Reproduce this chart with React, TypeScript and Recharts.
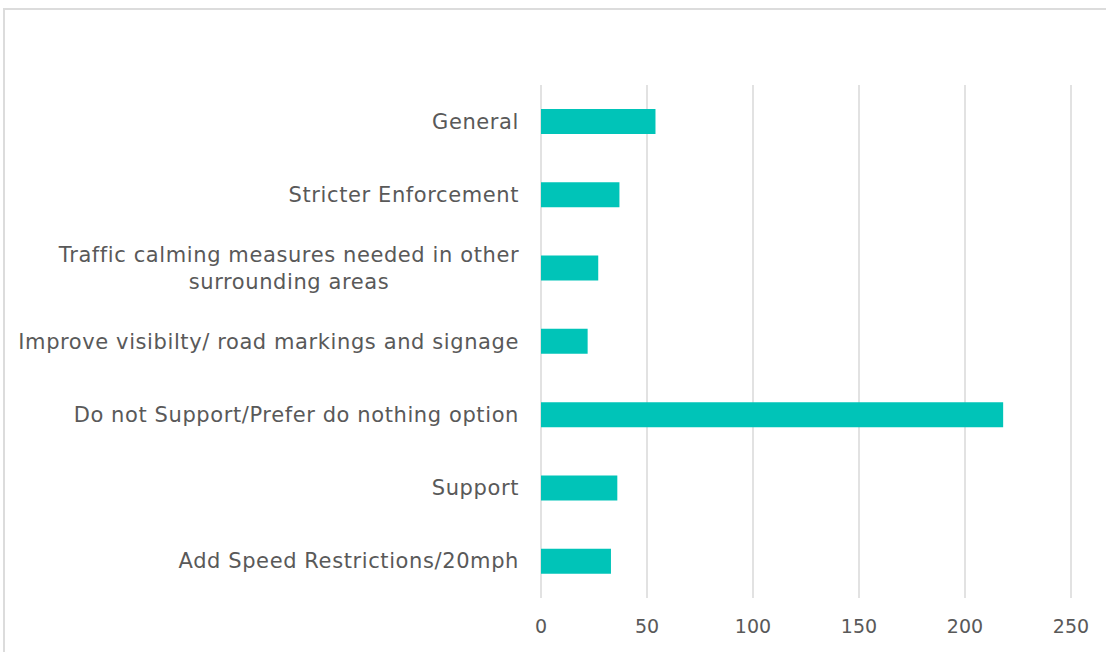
import React from "react";
import { BarChart, Bar, XAxis, YAxis, CartesianGrid } from "recharts";

const categories = [
  "General",
  "Stricter Enforcement",
  "Traffic calming measures needed in other surrounding areas",
  "Improve visibilty/ road markings and signage",
  "Do not Support/Prefer do nothing option",
  "Support",
  "Add Speed Restrictions/20mph",
];
const counts = [54, 37, 27, 22, 218, 36, 33];
const xTicks = [0, 50, 100, 150, 200, 250];
const wrapped: Record<string, string[]> = {
  "Traffic calming measures needed in other surrounding areas": [
    "Traffic calming measures needed in other",
    "surrounding areas",
  ],
};

const data = categories.map((c, i) => ({ name: c, value: counts[i] }));

const FONT = "'DejaVu Sans', sans-serif";
const FONT_SIZE = 21;
const LS = 0.6;
const TEXT = "#595959";

let ctx: CanvasRenderingContext2D | null = null;
const measure = (s: string) => {
  let w = s.length * 11;
  if (typeof document !== "undefined") {
    if (!ctx) ctx = document.createElement("canvas").getContext("2d");
    if (ctx) {
      ctx.font = `${FONT_SIZE}px ${FONT}`;
      w = ctx.measureText(s).width;
    }
  }
  return w + s.length * LS;
};

const YTick = (props: any) => {
  const { x, y, payload } = props;
  const lines = wrapped[payload.value] || [payload.value];
  const lh = 27;
  const start = y - ((lines.length - 1) * lh) / 2;
  if (lines.length === 1) {
    return (
      <text x={x} y={y} textAnchor="end" fill={TEXT} fontFamily={FONT} fontSize={FONT_SIZE} letterSpacing={LS} dominantBaseline="central">
        {lines[0]}
      </text>
    );
  }
  const maxW = Math.max(...lines.map(measure));
  const cx = x - maxW / 2;
  return (
    <text x={cx} y={start} textAnchor="middle" fill={TEXT} fontFamily={FONT} fontSize={FONT_SIZE} letterSpacing={LS}>
      {lines.map((l, i) => (
        <tspan key={i} x={cx} y={start + i * lh} dominantBaseline="central">
          {l}
        </tspan>
      ))}
    </text>
  );
};

export default function App() {
  return (
    <div style={{ position: "absolute", left: 0, top: 0, width: 1106, height: 652, background: "#fff", overflow: "hidden" }}>
      <div
        style={{
          position: "absolute",
          left: 3,
          top: 8,
          width: 1120,
          height: 700,
          borderTop: "2px solid #dcdcdc",
          borderLeft: "2px solid #dcdcdc",
        }}
      />
      <div style={{ position: "absolute", left: 0, top: 0 }}>
        <BarChart
          width={1106}
          height={652}
          data={data}
          layout="vertical"
          margin={{ top: 85, right: 35, bottom: 0, left: 0 }}
          barSize={25}
        >
          <CartesianGrid horizontal={false} stroke="#d9d9d9" strokeWidth={1.5} />
          <XAxis
            type="number"
            domain={[0, 250]}
            ticks={xTicks}
            axisLine={false}
            tickLine={false}
            tickMargin={16}
            height={54}
            tick={{ fill: TEXT, fontFamily: FONT, fontSize: 19 }}
          />
          <YAxis
            type="category"
            dataKey="name"
            width={541}
            axisLine={false}
            tickLine={false}
            tickMargin={16}
            interval={0}
            tick={<YTick />}
          />
          <Bar dataKey="value" fill="#00C4B8" isAnimationActive={false} />
        </BarChart>
      </div>
    </div>
  );
}
